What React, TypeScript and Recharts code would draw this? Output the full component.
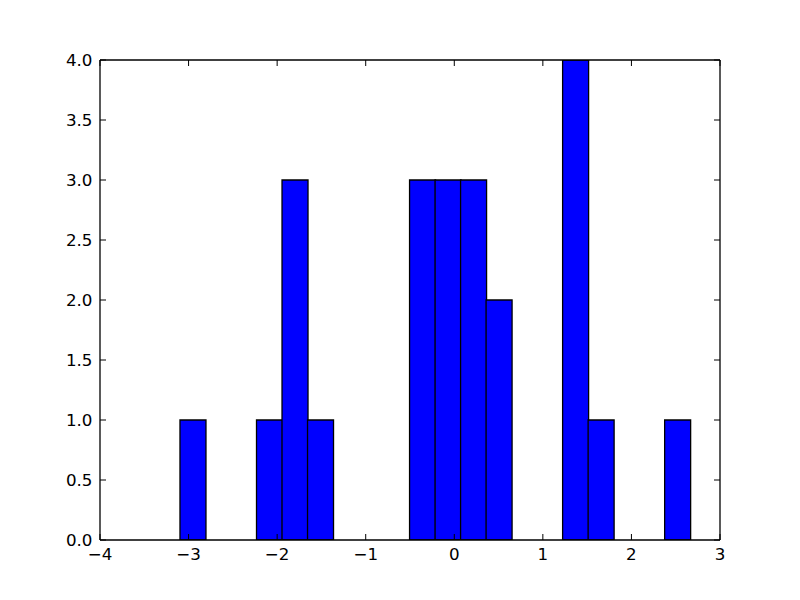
import { Bar, BarChart, XAxis, YAxis } from "recharts";

// histogram bins (centres) and counts, 20 bins of width ~0.288
const binCenters = [
  -2.953, -2.665, -2.377, -2.089, -1.801, -1.513, -1.225, -0.937, -0.649, -0.361,
  -0.073, 0.215, 0.503, 0.791, 1.079, 1.367, 1.655, 1.943, 2.231, 2.519,
];
const counts = [1, 0, 0, 1, 3, 1, 0, 0, 0, 3, 3, 3, 2, 0, 0, 4, 1, 0, 0, 1];
const xTicks = [-4, -3, -2, -1, 0, 1, 2, 3];
const yTicks = [0, 0.5, 1, 1.5, 2, 2.5, 3, 3.5, 4];

const data = binCenters.map((x, i) => ({ x, count: counts[i] }));

const FONT = "'DejaVu Sans', sans-serif";
const FONT_SIZE = 16.7;
const TICK_LEN = 6;
const LW = 1.3;

const fmtX = (v: number) => (v < 0 ? `\u2212${Math.abs(v)}` : `${v}`);

function BottomTick({ x, y, payload }: any) {
  return (
    <g>
      <line x1={x} y1={y} x2={x} y2={y - TICK_LEN} stroke="#000" />
      <text x={x} y={y + 19.5} textAnchor="middle" fontFamily={FONT} fontSize={FONT_SIZE} fill="#000">
        {fmtX(payload.value)}
      </text>
    </g>
  );
}

function TopTick({ x, y }: any) {
  return <line x1={x} y1={y} x2={x} y2={y + TICK_LEN} stroke="#000" />;
}

function LeftTick({ x, y, payload }: any) {
  return (
    <g>
      <line x1={x} y1={y} x2={x + TICK_LEN} y2={y} stroke="#000" />
      <text x={x - 7.5} y={y + 6} textAnchor="end" fontFamily={FONT} fontSize={FONT_SIZE} fill="#000">
        {Number(payload.value).toFixed(1)}
      </text>
    </g>
  );
}

function RightTick({ x, y }: any) {
  return <line x1={x} y1={y} x2={x - TICK_LEN} y2={y} stroke="#000" />;
}

export default function App() {
  return (
    <div style={{ position: "absolute", left: 0, top: 0, width: 800, height: 600, background: "#fff" }}>
      <BarChart
        width={800}
        height={600}
        data={data}
        margin={{ top: 59, right: 79, bottom: 59, left: 99 }}
        barCategoryGap={0}
        barGap={0}
      >
        <XAxis
          dataKey="x"
          type="number"
          domain={[-4, 3]}
          ticks={xTicks}
          interval={0}
          allowDataOverflow
          height={1}
          tickSize={0}
          tickMargin={0}
          tickLine={false}
          axisLine={{ stroke: "#000", strokeWidth: LW }}
          tick={<BottomTick />}
        />
        <XAxis
          xAxisId="top"
          dataKey="x"
          orientation="top"
          type="number"
          domain={[-4, 3]}
          ticks={xTicks}
          interval={0}
          allowDataOverflow
          height={1}
          tickSize={0}
          tickMargin={0}
          tickLine={false}
          axisLine={{ stroke: "#000", strokeWidth: LW }}
          tick={<TopTick />}
        />
        <YAxis
          type="number"
          domain={[0, 4]}
          ticks={yTicks}
          interval={0}
          allowDataOverflow
          width={1}
          tickSize={0}
          tickMargin={0}
          tickLine={false}
          axisLine={{ stroke: "#000", strokeWidth: LW }}
          tick={<LeftTick />}
        />
        <YAxis
          yAxisId="right"
          dataKey="count"
          orientation="right"
          type="number"
          domain={[0, 4]}
          ticks={yTicks}
          interval={0}
          allowDataOverflow
          width={1}
          tickSize={0}
          tickMargin={0}
          tickLine={false}
          axisLine={{ stroke: "#000", strokeWidth: LW }}
          tick={<RightTick />}
        />
        <Bar dataKey="count" fill="#0000ff" stroke="#000" strokeWidth={LW} isAnimationActive={false} />
      </BarChart>
    </div>
  );
}
